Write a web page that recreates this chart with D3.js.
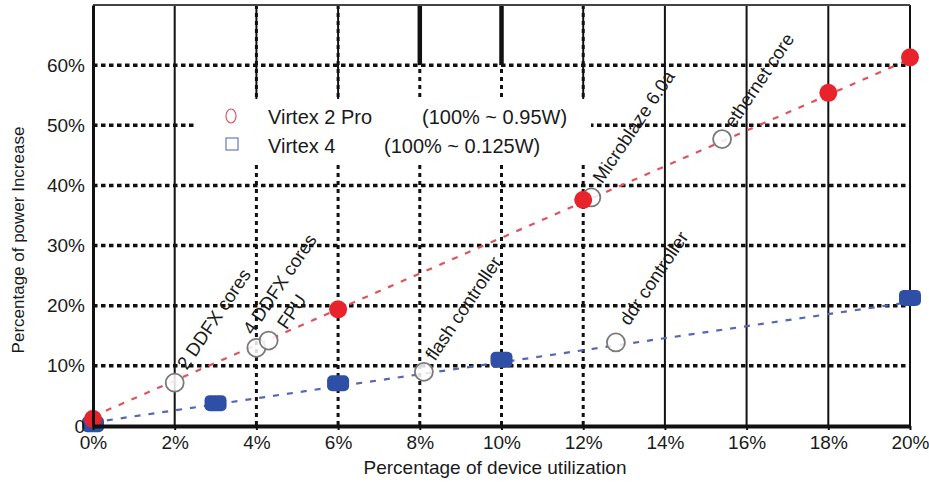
<!DOCTYPE html>
<html>
<head>
  <meta charset="utf-8">
  <title>Power increase vs device utilization</title>
  <script src="https://d3js.org/d3.v7.min.js"></script>
  <style>
    body { margin: 0; background: #fff; }
    text { font-family: "Liberation Sans", Arial, sans-serif; fill: #1a1a1a; }
  </style>
</head>
<body>
  <svg width="929" height="482"></svg>
  <script>
    // data (percent values)
    var xTicks = [0, 2, 4, 6, 8, 10, 12, 14, 16, 18, 20];
    var yTicks = [0, 10, 20, 30, 40, 50, 60];

    var virtex2pro = [[0, 1.2], [6, 19.4], [12, 37.6], [18, 55.4], [20, 61.3]];
    var virtex4 = [[0, 0.3], [3, 3.8], [6, 7.1], [10, 11], [20, 21.3]];
    var trend2pro = [[0, 1.6], [20, 61]];
    var trend4 = [[0, 0.6], [20, 20.6]];

    // open circles = designs placed on the chip
    var designs = [
      { name: "2 DDFX cores", x: 2, y: 7.2 },
      { name: "4 DDFX cores", x: 4, y: 13 },
      { name: "FPU", x: 4.3, y: 14.2 },
      { name: "flash controller", x: 8.1, y: 9 },
      { name: "ddr controller", x: 12.8, y: 13.9 },
      { name: "Microblaze 6.0a", x: 12.2, y: 38 },
      { name: "ethernet core", x: 15.4, y: 47.7 }
    ];
    var legendNames = ["Virtex 2 Pro", "Virtex 4"];
    var legendNotes = ["(100% ~ 0.95W)", "(100% ~ 0.125W)"];

    // grid line kinds
    var fullSolid = [2, 14, 16, 18, 20];
    var dottedLower = [4, 6, 8, 10, 12];
    var thinTop = [4, 6, 12];
    var thickTop = [8, 10];

    var svg = d3.select("svg");
    var plotL = 93, plotR = 910, plotT = 5, plotB = 426;

    var x = d3.scaleLinear().domain([0, 20]).range([plotL, plotR]);
    var y = d3.scaleLinear().domain([0, 70]).range([plotB, plotT]);

    var grid = svg.append("g");

    // horizontal dotted grid
    grid.selectAll("line.h")
      .data(yTicks.filter(function(d) { return d > 0; }))
      .enter().append("line")
      .attr("x1", plotL).attr("x2", plotR)
      .attr("y1", function(d) { return y(d); })
      .attr("y2", function(d) { return y(d); })
      .attr("stroke", "#111").attr("stroke-width", 3.5)
      .attr("stroke-dasharray", "4.5 3.5");

    // vertical grid
    grid.selectAll("line.vs")
      .data(fullSolid)
      .enter().append("line")
      .attr("x1", function(d) { return x(d); })
      .attr("x2", function(d) { return x(d); })
      .attr("y1", plotT).attr("y2", plotB)
      .attr("stroke", "#111").attr("stroke-width", 2);

    grid.selectAll("line.vd")
      .data(dottedLower)
      .enter().append("line")
      .attr("x1", function(d) { return x(d); })
      .attr("x2", function(d) { return x(d); })
      .attr("y1", plotT).attr("y2", plotB)
      .attr("stroke", "#111").attr("stroke-width", 3)
      .attr("stroke-dasharray", "4 4");

    grid.selectAll("line.vt")
      .data(thinTop)
      .enter().append("line")
      .attr("x1", function(d) { return x(d); })
      .attr("x2", function(d) { return x(d); })
      .attr("y1", plotT).attr("y2", y(54))
      .attr("stroke", "#111").attr("stroke-width", 2);

    grid.selectAll("line.vk")
      .data(thickTop)
      .enter().append("line")
      .attr("x1", function(d) { return x(d); })
      .attr("x2", function(d) { return x(d); })
      .attr("y1", plotT).attr("y2", y(60))
      .attr("stroke", "#111").attr("stroke-width", 4.5);

    // top border
    svg.append("line")
      .attr("x1", plotL).attr("x2", plotR)
      .attr("y1", plotT).attr("y2", plotT)
      .attr("stroke", "#444").attr("stroke-width", 2);

    // trend lines
    var line = d3.line()
      .x(function(d) { return x(d[0]); })
      .y(function(d) { return y(d[1]); });

    svg.append("path").datum(trend2pro)
      .attr("d", line).attr("fill", "none")
      .attr("stroke", "#e0525c").attr("stroke-width", 2.2)
      .attr("stroke-dasharray", "6 8");

    svg.append("path").datum(trend4)
      .attr("d", line).attr("fill", "none")
      .attr("stroke", "#5566b4").attr("stroke-width", 2.2)
      .attr("stroke-dasharray", "6 8");

    // Virtex 4 markers
    svg.selectAll("rect.v4")
      .data(virtex4)
      .enter().append("rect")
      .attr("x", function(d) { return x(d[0]) - 11; })
      .attr("y", function(d) { return y(d[1]) - 8; })
      .attr("width", 22).attr("height", 16)
      .attr("rx", 5)
      .attr("fill", "#2f4ea6");

    // design markers
    svg.selectAll("circle.design")
      .data(designs)
      .enter().append("circle")
      .attr("cx", function(d) { return x(d.x); })
      .attr("cy", function(d) { return y(d.y); })
      .attr("r", 9)
      .attr("fill", "#fff").attr("fill-opacity", 0.85)
      .attr("stroke", "#7a7a7a").attr("stroke-width", 1.8);

    // Virtex 2 Pro markers
    svg.selectAll("circle.v2")
      .data(virtex2pro)
      .enter().append("circle")
      .attr("cx", function(d) { return x(d[0]); })
      .attr("cy", function(d) { return y(d[1]); })
      .attr("r", 9)
      .attr("fill", "#e8232b");

    // design labels, rotated
    var labelShift = {
      "2 DDFX cores": [12, -12],
      "4 DDFX cores": [-4, -12],
      "FPU": [18, -10],
      "flash controller": [11, -10],
      "ddr controller": [13, -16],
      "Microblaze 6.0a": [11, -13],
      "ethernet core": [12, -10]
    };
    svg.selectAll("text.design")
      .data(designs)
      .enter().append("text")
      .attr("transform", function(d) {
        var s = labelShift[d.name];
        return "translate(" + (x(d.x) + s[0]) + "," + (y(d.y) + s[1]) + ") rotate(-56)";
      })
      .style("font-size", "18.5px")
      .text(function(d) { return d.name; });

    // axes
    var xAxis = svg.append("g")
      .attr("transform", "translate(0," + plotB + ")")
      .call(d3.axisBottom(x).tickValues(xTicks).tickSizeInner(4).tickSizeOuter(0)
        .tickPadding(6)
        .tickFormat(function(d) { return d + "%"; }));
    xAxis.select(".domain").attr("stroke", "#111").attr("stroke-width", 4);
    xAxis.selectAll(".tick line").attr("stroke", "#111").attr("stroke-width", 2);
    xAxis.selectAll("text").style("font-size", "19px").attr("fill", "#1a1a1a");

    var yAxis = svg.append("g")
      .attr("transform", "translate(" + plotL + ",0)")
      .call(d3.axisLeft(y).tickValues(yTicks).tickSize(0).tickPadding(8)
        .tickFormat(function(d) { return d === 0 ? "0" : d + "%"; }));
    yAxis.select(".domain").attr("stroke", "#111").attr("stroke-width", 3);
    yAxis.selectAll("text").style("font-size", "19px").attr("fill", "#1a1a1a");

    // legend
    var legend = svg.append("g");
    legend.append("rect")
      .attr("x", 195).attr("y", 99)
      .attr("width", 396).attr("height", 64)
      .attr("fill", "#fff");
    legend.append("ellipse")
      .attr("cx", 231).attr("cy", 116).attr("rx", 5).attr("ry", 7)
      .attr("fill", "none").attr("stroke", "#e8505a").attr("stroke-width", 1.2);
    legend.append("rect")
      .attr("x", 226).attr("y", 138).attr("width", 12).attr("height", 12)
      .attr("fill", "none").attr("stroke", "#6a78c0").attr("stroke-width", 1.2);
    var noteX = [422, 384];
    legendNames.forEach(function(name, i) {
      legend.append("text")
        .attr("x", 268).attr("y", 124 + i * 29)
        .style("font-size", "20px")
        .text(name);
      legend.append("text")
        .attr("x", noteX[i]).attr("y", 124 + i * 29)
        .style("font-size", "20px")
        .text(legendNotes[i]);
    });

    // axis titles
    svg.append("text")
      .attr("x", 495).attr("y", 474)
      .attr("text-anchor", "middle")
      .style("font-size", "19px")
      .text("Percentage of device utilization");

    svg.append("text")
      .attr("transform", "translate(24,240) rotate(-90)")
      .attr("text-anchor", "middle")
      .style("font-size", "17px")
      .text("Percentage of power Increase");
  </script>
</body>
</html>
